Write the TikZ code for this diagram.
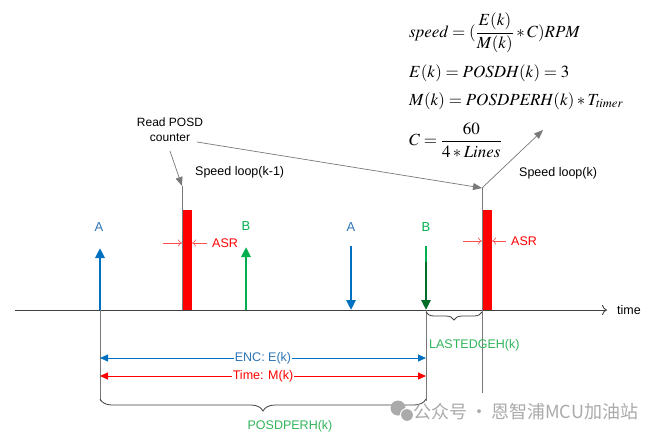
\documentclass[tikz,border=0pt]{standalone}
\usepackage{mathptmx}
\usepackage{fontspec}
\setmainfont{Liberation Sans}
\newfontfamily\cjk{Noto Sans CJK SC}
\usetikzlibrary{arrows.meta,decorations.pathreplacing}
\definecolor{sigblue}{RGB}{0,112,192}
\definecolor{siggreen}{RGB}{0,176,80}
\definecolor{darkgreen}{RGB}{0,110,40}
\definecolor{txtblue}{RGB}{46,117,182}
\definecolor{txtgreen}{RGB}{50,180,90}
\definecolor{asrred}{RGB}{255,80,80}
\definecolor{axisgray}{RGB}{64,64,64}
\definecolor{linegray}{RGB}{120,120,120}
\definecolor{wmgray}{RGB}{170,170,170}
\begin{document}
\begin{tikzpicture}[x=1pt,y=-1pt,
  lab/.style={font=\fontsize{12.5}{15}\selectfont, inner sep=1pt},
  eq/.style={anchor=west, font=\fontsize{17}{19}\selectfont, inner sep=0pt},
  sig/.style={line width=2.5pt, -{Triangle[length=10pt,width=9pt]}},
  asr/.style={asrred, line width=0.6pt, -{To[length=4pt,width=7pt]}},
  vline/.style={linegray, line width=0.9pt},
  bar/.style={fill=red, draw=none, minimum width=9pt, minimum height=100pt, inner sep=0pt, anchor=south west},
  callout/.style={linegray, line width=0.7pt, -{Triangle[length=9pt,width=7pt]}},
  span/.style={line width=1pt, {Triangle[length=8pt,width=7pt]}-{Triangle[length=8pt,width=7pt]}},
  bracestyle/.style={axisgray, line width=0.8pt, decorate, decoration={brace, mirror, amplitude=#1}}
]
\useasboundingbox (0,0) rectangle (663,439);

% equations
\node[eq] (eq1) at (409,33) {$\displaystyle \mathit{speed}=(\frac{E(k)}{M(k)}*C)\mathit{RPM}$};
\node[eq] (eq2) at (409,73) {$E(k)=\mathit{POSDH}(k)=3$};
\node[eq] (eq3) at (409,101) {$M(k)=\mathit{POSDPERH}(k)*T_{\mathit{timer}}$};
\node[eq] (eq4) at (409,140) {$\displaystyle C=\frac{60}{4*\mathit{Lines}}$};

% time axis
\coordinate (ax0) at (15,310);
\coordinate (ax1) at (607,310);
\draw[axisgray, line width=0.9pt, -{To[length=5pt,width=10pt]}] (ax0) -- (ax1);
\node[lab, anchor=west] (time) at (616,310) {time};

% vertical reference lines
\coordinate (v1t) at (182,186);
\coordinate (v1b) at (182,310);
\coordinate (v2t) at (482,188);
\coordinate (v2b) at (482,393);
\coordinate (aL) at (100,310);
\coordinate (aLb) at (100,401);
\coordinate (bR) at (426,310);
\coordinate (bRb) at (426,401);
\draw[vline] (v1t) -- (v1b);
\draw[vline] (v2t) -- (v2b);
\draw[vline] (aL) -- (aLb);
\draw[vline] (bR) -- (bRb);

% red bars
\node[bar] (r1) at (183,310) {};
\node[bar] (r2) at (482.5,310) {};

% signal arrows
\coordinate (a1t) at (100,248);
\coordinate (b1b) at (246,310);
\coordinate (b1t) at (246,247);
\coordinate (a2t) at (351,246);
\coordinate (a2b) at (351,310);
\coordinate (b2t) at (426,246);
\coordinate (b2m) at (426,262);
\draw[sig, sigblue] (aL) -- (a1t);
\draw[sig, siggreen] (b1b) -- (b1t);
\draw[sig, sigblue] (a2t) -- (a2b);
\draw[siggreen, line width=2.5pt] (b2t) -- (b2m);
\draw[sig, darkgreen] (b2m) -- (bR);
\node[lab, text=txtblue, font=\fontsize{13}{15}\selectfont] (A1) at (99,227) {A};
\node[lab, text=siggreen, font=\fontsize{13}{15}\selectfont] (B1) at (246,226) {B};
\node[lab, text=txtblue, font=\fontsize{13}{15}\selectfont] (A2) at (351,227) {A};
\node[lab, text=siggreen, font=\fontsize{13}{15}\selectfont] (B2) at (426,227) {B};

% ASR markers
\coordinate (s1a) at (163,243);
\coordinate (s1b) at (182,243);
\coordinate (s1c) at (207,243);
\coordinate (s1d) at (192,243);
\draw[asr] (s1a) -- (s1b);
\draw[asr] (s1c) -- (s1d);
\node[lab, text=red, anchor=west] (asr1) at (211,243) {ASR};
\coordinate (s2a) at (463,241);
\coordinate (s2b) at (482,241);
\coordinate (s2c) at (506,241);
\coordinate (s2d) at (492,241);
\draw[asr] (s2a) -- (s2b);
\draw[asr] (s2c) -- (s2d);
\node[lab, text=red, anchor=west] (asr2) at (510,241) {ASR};

% callouts
\node[lab, align=center, font=\fontsize{12}{15}\selectfont] (read) at (170,130) {Read POSD\\counter};
\coordinate (rs) at (170,151);
\coordinate (re) at (197,142);
\draw[callout] (rs) -- (v1t);
\draw[callout] (re) -- (v2t);
\node[lab, anchor=west] (sl1) at (194,172) {Speed loop(k-1)};
\coordinate (slk) at (543,130);
\draw[callout] (v2t) -- (slk);
\node[lab, anchor=west] (sl2) at (518,173) {Speed loop(k)};

% LASTEDGEH brace
\coordinate (l1) at (426,312);
\coordinate (l2) at (482,312);
\draw[bracestyle=8pt] (l1) -- (l2);
\node[lab, text=txtgreen, anchor=west] (last) at (428,345) {LASTEDGEH(k)};

% span arrows
\draw[span, sigblue] (100,358) -- node[lab, fill=white, text=txtblue, inner sep=1pt] (enc) {ENC: E(k)} (426,358);
\draw[span, red] (100,376) -- node[lab, fill=white, text=red, inner sep=1pt] (tm) {Time: M(k)} (426,376);

% POSDPERH brace
\coordinate (p1) at (100,399);
\coordinate (p2) at (426,399);
\draw[bracestyle=12pt] (p1) -- (p2);
\node[lab, text=txtgreen] (posd) at (290,426) {POSDPERH(k)};

% watermark
\fill[wmgray] (398,408) circle (7.5pt);
\fill[wmgray] (407,415) circle (6pt);
\draw[white, line width=1pt] (407,415) circle (6.6pt);
\node[anchor=west, text=wmgray, font=\cjk\fontsize{18}{20}\selectfont, inner sep=0pt] (wm) at (413,412) {公众号\,·\,恩智浦MCU加油站};
\end{tikzpicture}
\end{document}
